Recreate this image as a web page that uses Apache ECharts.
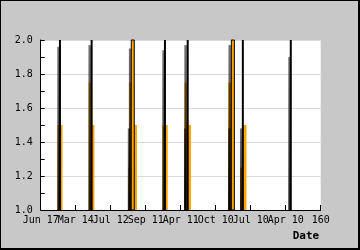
<!DOCTYPE html>
<html><head><meta charset="utf-8">
<script src="https://cdn.jsdelivr.net/npm/echarts@6/dist/echarts.min.js"></script>
<style>
html,body{margin:0;padding:0;background:#c8c8c8;}
#wrap{position:relative;width:360px;height:250px;}
#c{position:absolute;left:0;top:0;width:360px;height:250px;}
#frame{position:absolute;left:0;top:0;width:360px;height:250px;box-sizing:border-box;border-style:solid;border-color:#000;border-width:1px 2px 2px 1px;pointer-events:none;}
</style></head><body>
<div id="wrap"><div id="c"></div><div id="frame"></div></div>
<script>
// x axis: 0..160, tick labels as printed
const xTickLabels = ["Jun 17","Mar 14","Jul 12","Sep 11","Apr 11","Oct 10","Jul 10","Apr 10","160"];
// orange (low) bars: [x, visits]
const orangeBars = [[10.6,1.5],[11.5,1.5],[28.4,1.75],[29.7,1.5],[51.0,1.25],[51.6,1.75],[54.0,1.5],
  [70.6,1.5],[71.6,1.5],[83.2,1.75],[84.9,1.5],[108.2,1.75],[114.9,1.25],[116.6,1.5]];
// shaded (overlap) bars: [x, visits]
const shadeBars = [[10.2,1.96],[28.0,1.97],[51.1,1.95],[50.5,1.48],[70.2,1.94],[82.8,1.97],[82.6,1.48],
  [108.0,1.97],[107.8,1.48],[114.6,1.48],[142.2,1.9]];
// peaks reaching the top of the scale: [x, visits]
const peaksThin = [[11.0,2.0],[29.1,2.0],[71.0,2.0],[84.0,2.0],[115.5,2.0],[142.9,2.0]];
const peaksWide = [[52.6,2.0],[109.8,2.0]];

const chart = echarts.init(document.getElementById('c'), null, {renderer:'canvas'});
const mono = 'DejaVu Sans Mono';

function rectItem(w, style){
  return function(params, api){
    const x = api.value(0), y = api.value(1);
    const top = api.coord([x, y]);
    const base = api.coord([x, 1]);
    return {type:'rect', shape:{x: top[0]-w/2, y: top[1], width: w, height: base[1]-top[1]}, style: style};
  };
}
const shadeFill = new echarts.graphic.LinearGradient(0,0,0,1,[
  {offset:0,color:'rgba(0,0,0,0.55)'},{offset:1,color:'rgba(0,0,0,0.85)'}]);

const labelBase = {fontFamily:mono,fontSize:10,color:'#000',margin:5,showMinLabel:true,showMaxLabel:true,hideOverlap:false};
function labelFor(parity){
  return Object.assign({}, labelBase, {formatter:function(v){
    const i = Math.round(v/20);
    return (i % 2 === parity) ? xTickLabels[i] : '';
  }});
}

chart.setOption({
  backgroundColor:'#c8c8c8',
  animation:false,
  grid:{left:40.7,right:39.3,top:40,bottom:40,show:true,backgroundColor:'#fff',borderWidth:0,
    containLabel:false,outerBoundsMode:'none'},
  xAxis:[{type:'value',min:0,max:160,interval:20,position:'bottom',
    name:'Date',nameLocation:'end',nameGap:-28,
    nameTextStyle:{fontFamily:mono,fontWeight:'bold',fontSize:11,color:'#000',align:'left',verticalAlign:'top',padding:[21,0,0,0]},
    axisLine:{lineStyle:{color:'#000',width:1}},
    axisTick:{inside:true,length:5,lineStyle:{color:'#000'}},
    axisLabel:labelFor(0),
    splitLine:{show:false}},
   {type:'value',min:0,max:160,interval:20,position:'bottom',
    axisLine:{show:false},axisTick:{show:false},
    axisLabel:labelFor(1),
    splitLine:{show:false}}],
  yAxis:{type:'value',min:1,max:2,interval:0.2,
    name:'Vists',nameLocation:'middle',nameGap:31,
    nameTextStyle:{fontFamily:mono,fontWeight:'bold',fontSize:11,color:'#000'},
    axisLine:{show:true,lineStyle:{color:'#000',width:1}},
    axisTick:{show:true,inside:true,length:4,lineStyle:{color:'#000'}},
    minorTick:{show:true,splitNumber:2,length:4,lineStyle:{color:'#000'}},
    axisLabel:{fontFamily:mono,fontSize:10,color:'#000',margin:8,hideOverlap:false,formatter:function(v){return v.toFixed(1);}},
    splitLine:{show:true,lineStyle:{color:'#d9d9d9',width:1}}},
  series:[
    {type:'custom',name:'orange',data:orangeBars,z:2,renderItem:rectItem(3.5,{fill:'#ffa500'})},
    {type:'custom',name:'shade',data:shadeBars,z:3,renderItem:rectItem(2.5,{fill:shadeFill})},
    {type:'custom',name:'peaksWide',data:peaksWide,z:4,renderItem:rectItem(3,{fill:'#ffa500',stroke:'#000',lineWidth:1})},
    {type:'custom',name:'peaksThin',data:peaksThin,z:5,renderItem:rectItem(2,{fill:'#000'})}
  ]
});
</script>
</body></html>
